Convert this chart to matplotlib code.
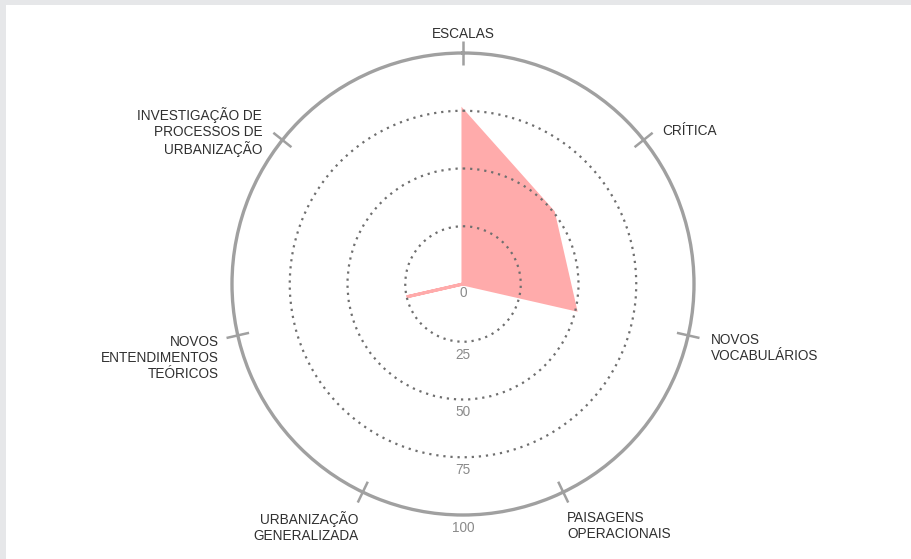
import numpy as np
import matplotlib
matplotlib.use("Agg")
import matplotlib.pyplot as plt
from matplotlib.patches import Rectangle

plt.rcParams['font.family'] = ['Liberation Sans', 'DejaVu Sans']

# Radar dimensions (clockwise from the top) and their scores
categories = [
    "ESCALAS",
    "CRÍTICA",
    "NOVOS\nVOCABULÁRIOS",
    "PAISAGENS\nOPERACIONAIS",
    "URBANIZAÇÃO\nGENERALIZADA",
    "NOVOS\nENTENDIMENTOS\nTEÓRICOS",
    "INVESTIGAÇÃO DE\nPROCESSOS DE\nURBANIZAÇÃO",
]
values = [75, 50, 50, 0, 0, 25, 0]
rings = [0, 25, 50, 75, 100]

W, H = 911, 559
fig = plt.figure(figsize=(W / 100, H / 100), dpi=100)
fig.patch.set_facecolor("#e6e7e9")
fig.add_artist(Rectangle((6 / W, 0), 1, (H - 5) / H, transform=fig.transFigure,
                         facecolor="white", edgecolor="none", zorder=0))

cx, cy, R = 463, H - 284, 231
ax = fig.add_axes([(cx - R) / W, (cy - R) / H, 2 * R / W, 2 * R / H], projection="polar")
ax.set_facecolor("none")
ax.set_theta_zero_location("N")
ax.set_theta_direction(-1)
ax.set_ylim(0, 100)

n = len(categories)
angles = np.arange(n) * 2 * np.pi / n

# dotted inner rings
ax.set_rgrids([25, 50, 75], labels=[])
ax.set_thetagrids([])
ax.yaxis.grid(True, color="#6f6f6f", linestyle=(0, (1, 2.2)), linewidth=1.6)
ax.xaxis.grid(False)
ax.set_axisbelow(False)

# outer ring
ax.spines["polar"].set_color("#a0a0a0")
ax.spines["polar"].set_linewidth(2.4)

# data polygon
th = np.concatenate([angles, angles[:1]])
vv = np.concatenate([values, values[:1]])
ax.fill(th, vv, facecolor="#ffabab", edgecolor="#ffabab", linewidth=2.2,
        joinstyle="miter", zorder=1)

# tick marks across the outer ring
for a in angles:
    ax.plot([a, a], [95, 105], color="#a0a0a0", linewidth=1.8, clip_on=False,
            solid_capstyle="butt", zorder=3)

# category labels: first line centred on the anchor, further lines below;
# small per-label nudges (pixels, x right / y up) tidy the placement
nudges = [(0, -2), (2, -4), (2, 0), (-7, -3), (7, -3), (1, -2), (-4, 13)]
for a, lab, (dx, dy) in zip(angles, categories, nudges):
    s = np.sin(a)
    if abs(s) < 0.05:
        ha = "center"
    elif s > 0:
        ha = "left"
    else:
        ha = "right"
    r = 109 if np.cos(a) > -0.5 else 111
    ax.annotate(lab, xy=(a, r), xytext=(dx, 7 + dy), textcoords="offset pixels",
                ha=ha, va="top", multialignment=ha,
                fontsize=9.8, color="#303030", linespacing=1.18,
                annotation_clip=False)

# ring value labels down the bottom axis
for v in rings:
    ax.annotate(str(v), xy=(np.pi, v), xytext=(0, -9 if v == 0 else -13),
                textcoords="offset pixels", ha="center", va="center",
                fontsize=9.8, color="#8a8a8a", annotation_clip=False, zorder=4)

fig.savefig("out.png", dpi=100)
